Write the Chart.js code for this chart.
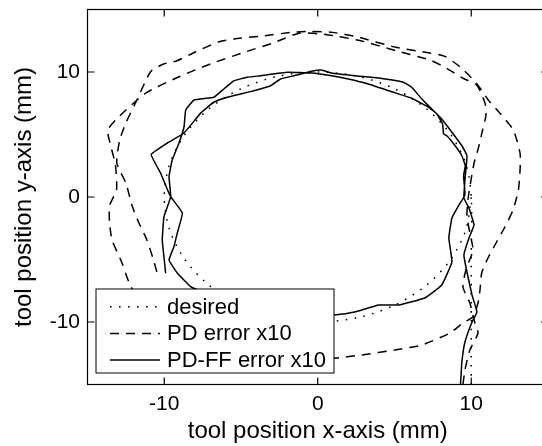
<!DOCTYPE html>
<html>
<head>
<meta charset="utf-8">
<script src="https://cdn.jsdelivr.net/npm/chart.js@4.4.0/dist/chart.umd.min.js"></script>
<style>
  html, body { margin: 0; padding: 0; background: #fff; overflow: hidden; }
</style>
</head>
<body>
<canvas id="traj" width="560" height="446"></canvas>
<script>
// axis ticks and series names
const xTicks = [-10, 0, 10];
const yTicks = [-10, 0, 10];
const seriesNames = ['desired', 'PD error x10', 'PD-FF error x10'];

// [x, y] in mm
const desiredPath = [
  [10, -15], [10, -10], [10, -5], [10, 0],
  [9.66, 2.59], [8.66, 5], [7.07, 7.07], [5, 8.66], [2.59, 9.66], [0, 10],
  [-2.59, 9.66], [-5, 8.66], [-7.07, 7.07], [-8.66, 5], [-9.66, 2.59], [-10, 0],
  [-9.66, -2.59], [-8.66, -5], [-7.07, -7.07], [-5, -8.66], [-2.59, -9.66], [0, -10],
  [2.59, -9.66], [5, -8.66], [7.07, -7.07], [8.66, -5], [9.66, -2.59], [10, 0]
];

const pdPath = [
  [9.46, -15], [9.59, -13.84], [9.91, -12.24], [10.44, -10.88], [10.24, -10.08], [9.91, -8.48],
  [9.46, -7.2], [9.65, -5.84], [10.11, -4.24], [9.91, -2.88], [9.72, -1.52], [9.78, -0.24],
  [10.18, 2.7], [10.46, 3.9], [10.74, 5.36], [10.96, 6.56], [10.9, 7.5], [10.35, 8.96],
  [9.46, 9.5], [8.39, 10.3], [7.3, 10.96], [5.08, 11.7], [2.8, 12.5], [0.5, 13.0],
  [-1.2, 13.1], [-2.96, 12.3], [-4.68, 11.62], [-6.88, 10.7], [-9.04, 9.62], [-11.22, 8.3],
  [-12.96, 6.42], [-13.68, 5.36], [-13.5, 4.16], [-13.18, 2.56], [-13.11, 0.56], [-13.55, -0.64],
  [-13.57, -1.98], [-13.4, -3.44], [-12.75, -5.28], [-12.31, -6.78], [-11.33, -9.04], [-9.69, -10.64],
  [-7.08, -12.08], [-3.81, -12.88], [-1.2, -13.04], [1.22, -12.88], [2.85, -12.64], [5.01, -12.24],
  [6.78, -11.84], [8.61, -10.88], [9.46, -10.08], [10.11, -9.58], [10.44, -8.48], [10.57, -7.44],
  [10.68, -6.08], [11.09, -4.88], [11.66, -3.58], [12.2, -2.38], [12.72, -1.04], [13.07, 0.54],
  [13.18, 2.16], [13.18, 3.5], [12.74, 5.36], [11.87, 6.7], [11.11, 7.76], [10.35, 9.09],
  [9.26, 10.42], [8.28, 11.25], [7.3, 11.52], [5.08, 11.98], [2.6, 12.8], [0.96, 13.17],
  [-0.54, 13.25], [-1.65, 13.18], [-3.5, 12.9], [-5.46, 12.64], [-6.42, 12.42], [-7.95, 11.62],
  [-9.17, 10.9], [-10.04, 10.64], [-10.89, 10.02], [-11.78, 7.76], [-12.5, 5.92], [-12.9, 4.56],
  [-13.09, 2.72], [-12.5, 1.12], [-12.11, -0.64], [-11.65, -2.08], [-11.13, -3.44], [-10.74, -4.88],
  [-10.48, -6.0]
];

const pdffPath = [
  [9.3, -15], [9.39, -13.2], [9.59, -11.6], [10.05, -10.0], [10.37, -9.2], [10.05, -7.84],
  [9.72, -6.0], [9.52, -4.64], [9.85, -3.28], [10.18, -2.24], [9.85, -0.88], [9.52, -0.08],
  [9.6, 1.5], [9.72, 3.3], [9.39, 4.1], [8.74, 5.18], [8.08, 6.24], [7.43, 7.04],
  [6.78, 7.84], [6.12, 8.78], [5.58, 9.18], [3.95, 9.52], [2.42, 9.7], [0.9, 9.92],
  [0.24, 10.16], [-0.41, 10.06], [-1.54, 9.7], [-2.42, 9.44], [-3.07, 8.9], [-4.16, 8.5],
  [-5.03, 8.24], [-5.9, 7.98], [-6.77, 7.58], [-7.6, 6.75], [-8.71, 5.12], [-9.8, 4.32],
  [-10.85, 3.4], [-10.24, 1.92], [-9.9, 0.9], [-9.58, 0.02], [-8.82, -1.28], [-9.15, -2.88],
  [-9.37, -3.98], [-9.69, -5.04], [-9.15, -6.08], [-8.27, -7.18], [-6.75, -8.0], [-5.12, -8.64],
  [-3.48, -9.12], [-1.85, -9.36], [-0.22, -9.52], [1.09, -9.44], [2.4, -9.2], [3.97, -8.64],
  [5.27, -8.64], [6.97, -8.08], [8.08, -7.04], [8.74, -5.2], [8.54, -3.28], [8.74, -1.68],
  [9.2, -0.64], [9.59, 0.16], [9.5, 1.7], [9.61, 2.5], [9.39, 3.3], [8.95, 4.1],
  [8.41, 4.9], [8.2, 5.04], [8.13, 5.84], [7.76, 6.64], [7.22, 7.18], [6.12, 7.9],
  [4.82, 8.42], [3.29, 9.04], [1.99, 9.44], [0.9, 9.7], [-0.41, 9.92], [-1.98, 9.98],
  [-3.73, 9.7], [-4.59, 9.58], [-5.46, 9.3], [-6.12, 8.64], [-6.77, 7.98], [-8.06, 7.76],
  [-8.6, 6.96], [-8.71, 5.62], [-9.04, 4.32], [-9.48, 2.96], [-9.69, 1.62], [-9.58, 0.02],
  [-10.02, -1.58], [-10.13, -3.44], [-10.02, -4.78], [-9.91, -6.1]
];

const FONT = "'Liberation Sans', Arial, sans-serif";
const toXY = path => path.map(p => ({ x: p[0], y: p[1] }));

// box around the plot, inward ticks on all sides, legend in the lower left
const framePlugin = {
  id: 'frame',
  afterDraw(chart) {
    const { ctx, chartArea: a, scales } = chart;
    ctx.save();
    ctx.strokeStyle = '#000';
    ctx.lineWidth = 1.2;
    ctx.setLineDash([]);
    ctx.strokeRect(a.left, a.top, a.right - a.left, a.bottom - a.top);
    const len = 7;
    ctx.beginPath();
    xTicks.forEach(v => {
      const px = scales.x.getPixelForValue(v);
      ctx.moveTo(px, a.bottom); ctx.lineTo(px, a.bottom - len);
      ctx.moveTo(px, a.top); ctx.lineTo(px, a.top + len);
    });
    yTicks.forEach(v => {
      const py = scales.y.getPixelForValue(v);
      ctx.moveTo(a.left, py); ctx.lineTo(a.left + len, py);
      ctx.moveTo(a.right, py); ctx.lineTo(a.right - len, py);
    });
    ctx.stroke();

    // legend box
    const bx = a.left + 8.5, bw = 238, bh = 84;
    const by = a.bottom - 11.5 - bh;
    ctx.fillStyle = '#fff';
    ctx.fillRect(bx, by, bw, bh);
    ctx.lineWidth = 1;
    ctx.strokeRect(bx, by, bw, bh);
    ctx.font = '22px ' + FONT;
    ctx.textBaseline = 'middle';
    ctx.fillStyle = '#000';
    chart.data.datasets.forEach((ds, i) => {
      const cy = by + 17.7 + i * 26.7;
      ctx.lineWidth = ds.borderWidth;
      ctx.setLineDash(ds.borderDash || []);
      ctx.beginPath();
      ctx.moveTo(bx + 14, cy);
      ctx.lineTo(bx + 64, cy);
      ctx.stroke();
      ctx.setLineDash([]);
      ctx.fillText(ds.label, bx + 71, cy + 1);
    });
    ctx.restore();
  }
};

const lineSet = (label, path, dash, tension) => ({
  label: label,
  data: toXY(path),
  showLine: true,
  borderColor: '#000',
  backgroundColor: '#000',
  borderWidth: 1.5,
  borderDash: dash,
  pointRadius: 0,
  tension: tension
});

new Chart(document.getElementById('traj'), {
  type: 'scatter',
  data: {
    datasets: [
      lineSet(seriesNames[0], desiredPath, [1.6, 7.4], 0.3),
      lineSet(seriesNames[1], pdPath, [9, 7], 0.2),
      lineSet(seriesNames[2], pdffPath, [], 0.1)
    ]
  },
  options: {
    responsive: false,
    animation: false,
    layout: { autoPadding: false, padding: { top: 9.5, right: 12, left: 0, bottom: 0 } },
    plugins: { legend: { display: false }, tooltip: { enabled: false } },
    scales: {
      x: {
        type: 'linear',
        min: -15, max: 15,
        afterBuildTicks: s => { s.ticks = xTicks.map(v => ({ value: v })); },
        afterFit: s => { s.height = 61.5; s.paddingLeft = 0; s.paddingRight = 0; },
        grid: { display: false, drawTicks: false },
        border: { display: false },
        ticks: { color: '#000', padding: 7, font: { family: FONT, size: 21 } },
        title: {
          display: true, text: 'tool position x-axis (mm)', color: '#000',
          font: { family: FONT, size: 24 }, padding: { top: 0, bottom: 0 }
        }
      },
      y: {
        type: 'linear',
        min: -15, max: 15,
        afterBuildTicks: s => { s.ticks = yTicks.map(v => ({ value: v })); },
        afterFit: s => { s.width = 87.5; s.paddingTop = 0; s.paddingBottom = 0; },
        grid: { display: false, drawTicks: false },
        border: { display: false },
        ticks: { color: '#000', padding: 7.5, font: { family: FONT, size: 21 } },
        title: {
          display: true, text: 'tool position y-axis (mm)', color: '#000',
          font: { family: FONT, size: 24 }, padding: { top: 10, bottom: 0 }
        }
      }
    }
  },
  plugins: [framePlugin]
});
</script>
</body>
</html>
